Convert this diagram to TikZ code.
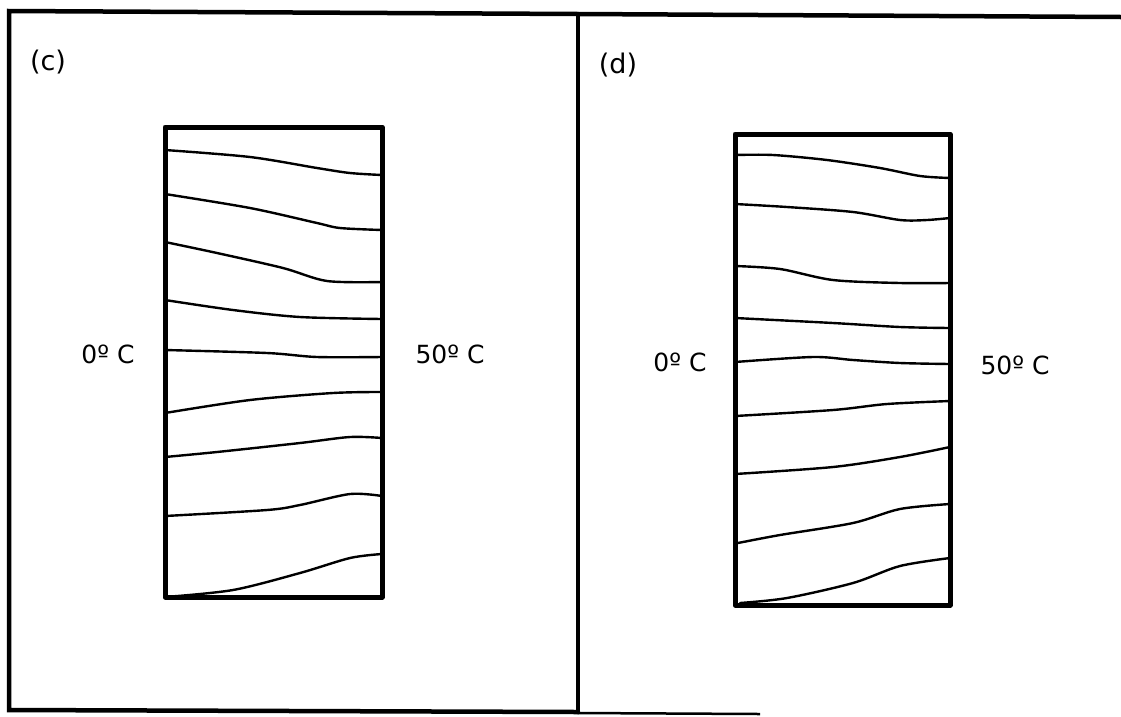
\documentclass[tikz,border=0pt]{standalone}
\usepackage{fontspec}
\setmainfont{DejaVu Sans}
\begin{document}
\begin{tikzpicture}[x=1pt,y=-1pt,
  frame/.style={line width=4.5pt,line cap=round},
  cell/.style={line width=5pt,line join=round},
  iso/.style={line width=2.4pt,line cap=round},
  lbl/.style={font=\fontsize{25}{28}\selectfont,inner sep=0pt},
  tag/.style={font=\fontsize{27}{30}\selectfont,inner sep=0pt}]
\useasboundingbox (0,0) rectangle (1121,716);
% outer frame
\draw[frame] (1121,17) -- (578,14) -- (9,11) -- (9,710) -- (578,712);
\draw[frame] (578,14) -- (578,712);
\draw[line width=2.5pt] (578,713) -- (760,714);
% panel labels
\node[tag] (c) at (48,62) {(c)};
\node[tag] (d) at (618,65) {(d)};
% left panel
\draw[cell] (165,127) rectangle (382,597);
\node[lbl] (c0) at (108,354) {0º C};
\node[lbl] (c50) at (450,354) {50º C};
\draw[iso] plot[smooth] coordinates {(165,150) (250,157) (317,168) (350,173) (382,175)};
\draw[iso] plot[smooth] coordinates {(165,194) (250,208) (317,223) (340,228) (382,230)};
\draw[iso] plot[smooth] coordinates {(165,242) (217,253) (283,268) (327,281) (382,282)};
\draw[iso] plot[smooth] coordinates {(165,300) (233,310) (300,317) (382,319)};
\draw[iso] plot[smooth] coordinates {(165,350) (267,353) (317,357) (382,357)};
\draw[iso] plot[smooth] coordinates {(165,413) (250,400) (333,393) (382,392)};
\draw[iso] plot[smooth] coordinates {(165,457) (217,452) (300,443) (350,437) (382,438)};
\draw[iso] plot[smooth] coordinates {(165,516) (267,510) (300,505) (350,494) (382,496)};
\draw[iso] plot[smooth] coordinates {(165,597) (233,590) (300,573) (350,558) (382,554)};
% right panel
\draw[cell] (735,134) rectangle (950,605);
\node[lbl] (d0) at (680,362) {0º C};
\node[lbl] (d50) at (1015,365) {50º C};
\draw[iso] plot[smooth] coordinates {(735,155) (773,155) (827,160) (880,168) (920,176) (950,178)};
\draw[iso] plot[smooth] coordinates {(735,204) (787,207) (853,212) (900,220) (927,220) (950,218)};
\draw[iso] plot[smooth] coordinates {(735,266) (780,269) (833,280) (900,283) (950,283)};
\draw[iso] plot[smooth] coordinates {(735,318) (833,323) (900,327) (950,328)};
\draw[iso] plot[smooth] coordinates {(735,362) (813,357) (853,360) (900,363) (950,364)};
\draw[iso] plot[smooth] coordinates {(735,416) (833,410) (887,404) (950,401)};
\draw[iso] plot[smooth] coordinates {(735,474) (833,467) (900,457) (950,447)};
\draw[iso] plot[smooth] coordinates {(738,543) (780,535) (853,523) (900,509) (950,504)};
\draw[iso] plot[smooth] coordinates {(740,603) (787,598) (853,583) (900,566) (950,558)};
\end{tikzpicture}
\end{document}
